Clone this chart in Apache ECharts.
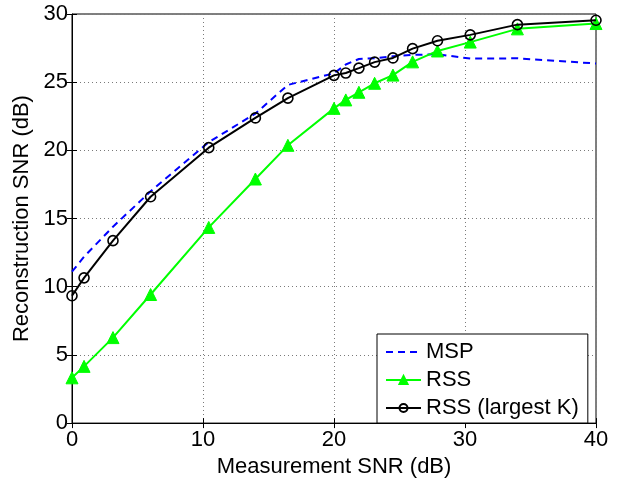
<!DOCTYPE html>
<html>
<head>
<meta charset="utf-8">
<script src="https://cdn.jsdelivr.net/npm/echarts@6/dist/echarts.min.js"></script>
<style>
html,body{margin:0;padding:0;background:#fff;}
#chart{width:624px;height:483px;}
</style>
</head>
<body>
<div id="chart"></div>
<script>
// Measurement SNR (dB) values at which the curves are sampled
var measurementSNR = [0, 0.92, 3.13, 6.0, 10.44, 14.0, 16.48, 20.0, 20.9, 21.9, 23.1, 24.5, 26.0, 27.9, 30.4, 34.0, 40.0];
// Reconstruction SNR (dB)
var mspValues = [11.1, 12.2, 14.4, 17.0, 20.6, 22.7, 24.8, 25.65, 26.3, 26.7, 26.75, 26.9, 27.0, 27.05, 26.73, 26.75, 26.37];
var rssValues = [3.32, 4.16, 6.27, 9.43, 14.35, 17.9, 20.37, 23.08, 23.7, 24.26, 24.92, 25.52, 26.49, 27.29, 27.94, 28.91, 29.3];
var rssKValues = [9.34, 10.65, 13.38, 16.6, 20.2, 22.38, 23.83, 25.5, 25.67, 26.03, 26.47, 26.78, 27.46, 28.04, 28.47, 29.22, 29.54];
var seriesNames = ['MSP', 'RSS', 'RSS (largest K)'];
var xTicks = {min: 0, max: 40, interval: 10};
var yTicks = {min: 0, max: 30, interval: 5};

function pairs(xs, ys) { return xs.map(function (x, i) { return [x, ys[i]]; }); }

var FONT = 'Liberation Sans, Arial, Helvetica, sans-serif';
var chart = echarts.init(document.getElementById('chart'), null, {renderer: 'canvas'});

var gridLine = {show: true, lineStyle: {color: '#7a7a7a', width: 1, type: [1, 3]}};
var tick = {show: true, inside: true, length: 5, lineStyle: {color: '#000', width: 1}};

chart.setOption({
  animation: false,
  backgroundColor: '#fff',
  grid: {left: 72, right: 28, top: 14, bottom: 55, show: true, borderColor: '#000', borderWidth: 1, backgroundColor: 'transparent', containLabel: false},
  xAxis: [{
    type: 'value', min: xTicks.min, max: xTicks.max, interval: xTicks.interval,
    name: 'Measurement SNR (dB)', nameLocation: 'middle', nameGap: 29,
    nameTextStyle: {color: '#000', fontSize: 22, fontFamily: FONT},
    axisLine: {show: true, onZero: false, lineStyle: {color: '#000', width: 1}},
    axisTick: tick, splitLine: gridLine,
    axisLabel: {color: '#000', fontSize: 22, fontFamily: FONT, margin: 6}
  }, {
    type: 'value', position: 'top', min: xTicks.min, max: xTicks.max, interval: xTicks.interval,
    axisLine: {show: false}, axisTick: tick, splitLine: {show: false}, axisLabel: {show: false}
  }],
  yAxis: [{
    type: 'value', min: yTicks.min, max: yTicks.max, interval: yTicks.interval,
    name: 'Reconstruction SNR (dB)', nameLocation: 'middle', nameGap: 35, nameRotate: 90,
    nameTextStyle: {color: '#000', fontSize: 22, fontFamily: FONT},
    axisLine: {show: true, onZero: false, lineStyle: {color: '#000', width: 1}},
    axisTick: tick, splitLine: gridLine,
    axisLabel: {color: '#000', fontSize: 22, fontFamily: FONT, margin: 4}
  }, {
    type: 'value', position: 'right', min: yTicks.min, max: yTicks.max, interval: yTicks.interval,
    axisLine: {show: false}, axisTick: tick, splitLine: {show: false}, axisLabel: {show: false}
  }],
  legend: {
    orient: 'vertical', left: 377, top: 334,
    backgroundColor: '#fff', borderColor: '#000', borderWidth: 1, borderRadius: 0,
    padding: [7, 9, 4, 8], itemGap: 6, itemWidth: 35, itemHeight: 10,
    textStyle: {color: '#000', fontSize: 22, fontFamily: FONT},
    data: [
      {name: seriesNames[0], itemStyle: {opacity: 0}},
      {name: seriesNames[1]},
      {name: seriesNames[2]}
    ]
  },
  series: [{
    name: seriesNames[0], type: 'line', data: pairs(measurementSNR, mspValues),
    showSymbol: false, symbol: 'none',
    lineStyle: {color: '#0000ff', width: 2, type: [7, 5]},
    itemStyle: {color: '#0000ff'}, z: 2
  }, {
    name: seriesNames[1], type: 'line', data: pairs(measurementSNR, rssValues),
    symbol: 'triangle', symbolSize: 12,
    lineStyle: {color: '#00ff00', width: 2},
    itemStyle: {color: '#00ff00', borderColor: '#00ff00', borderWidth: 1}, z: 3
  }, {
    name: seriesNames[2], type: 'line', data: pairs(measurementSNR, rssKValues),
    symbol: 'circle', symbolSize: 10,
    lineStyle: {color: '#000', width: 2},
    itemStyle: {color: 'rgba(0,0,0,0)', borderColor: '#000', borderWidth: 1.6}, z: 4
  }]
});
</script>
</body>
</html>
